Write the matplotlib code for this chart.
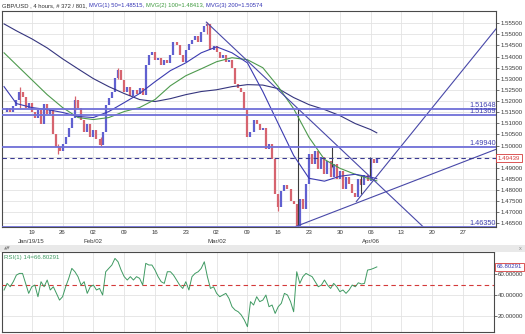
import numpy as np
import matplotlib
matplotlib.use("Agg")
import matplotlib.pyplot as plt
import matplotlib.ticker as mticker
from matplotlib.patches import Rectangle

W, H, DPI = 525, 334, 100

BG     = "#ffffff"
PANEL  = "#e9e9e9"
FRAME  = "#4a4a4a"
GRID   = "#e3e3e3"
TXT    = "#3a3a3a"
UP     = "#6060d0"
DOWN   = "#d6646f"
WICK   = "#3c3c3c"
MA50_C = "#3b3bb0"
MA100C = "#4e9a4e"
MA200C = "#35357e"
TREND  = "#4848a8"
LEVEL  = "#7070d8"
RED    = "#d43a3a"
RSI_C  = "#3f9a62"
FONT   = "Liberation Sans"

# 4h bars, index 0 = Mon Jan 19 2015, 30 bars per trading week
bars = np.arange(-27, 337, 3)
closes = [
    1.5153, 1.5171, 1.5149, 1.5180, 1.5207, 1.5243, 1.5220, 1.5171, 1.5193, 1.5153,
    1.5126, 1.5162, 1.5095, 1.5189, 1.5140, 1.5162, 1.5050, 1.4992, 1.4974, 1.5005,
    1.5037, 1.5081, 1.5126, 1.5207, 1.5171, 1.5117, 1.5063, 1.5095, 1.5037, 1.5072,
    1.5028, 1.5001, 1.5063, 1.5184, 1.5216, 1.5243, 1.5305, 1.5341, 1.5296, 1.5243,
    1.5265, 1.5225, 1.5251, 1.5234, 1.5260, 1.5229, 1.5363, 1.5408, 1.5422, 1.5386,
    1.5395, 1.5363, 1.5386, 1.5372, 1.5408, 1.5466, 1.5453, 1.5408, 1.5377, 1.5430,
    1.5457, 1.5475, 1.5493, 1.5466, 1.5511, 1.5538, 1.5547, 1.5430, 1.5448, 1.5422,
    1.5395, 1.5408, 1.5377, 1.5386, 1.5350, 1.5278, 1.5260, 1.5243, 1.5162, 1.5037,
    1.5063, 1.5117, 1.5095, 1.5072, 1.5081, 1.4983, 1.5005, 1.4938, 1.4781, 1.4723,
    1.4795, 1.4822, 1.4804, 1.4750, 1.4737, 1.4638, 1.4759, 1.4714, 1.4826, 1.4961,
    1.4916, 1.4974, 1.4893, 1.4947, 1.4871, 1.4929, 1.4858, 1.4916, 1.4849, 1.4884,
    1.4804, 1.4858, 1.4826, 1.4786, 1.4768, 1.4849, 1.4822, 1.4867, 1.4840, 1.4938,
    1.4920, 1.49439,
]

# single bars whose range sticks out of the close-to-close path
wick_bars = [-11, 26, 42, 67, 84, 171, 240]
wick_lo   = [1.5170, 1.4961, 1.5160, 1.4996, 1.5300, 1.5500, 1.4706]
wick_hi   = [1.5265, 1.5005, 1.5222, 1.5040, 1.5350, 1.5556, 1.4760]
dark_bars = [259, 292, 321, 329]
dark_lo   = [1.4635, 1.4902, 1.4781, 1.4858]
dark_hi   = [1.51648, 1.4994, 1.4868, 1.4948]

ma_bars = np.r_[-27, np.arange(-15, 331, 15), 336]
ma50 = [1.5265, 1.5189, 1.5171, 1.5162, 1.5149, 1.5131, 1.5126, 1.5153, 1.5193, 1.5234,
        1.5287, 1.5337, 1.5372, 1.5417, 1.5444, 1.5417, 1.5372, 1.5243, 1.5099, 1.4956,
        1.4853, 1.4840, 1.4862, 1.4871, 1.4858, 1.48515]
ma100 = [1.5417, 1.5363, 1.5296, 1.5229, 1.5171, 1.5126, 1.5117, 1.5126, 1.5153, 1.5171,
         1.5207, 1.5269, 1.5314, 1.5345, 1.5377, 1.5395, 1.5386, 1.5350, 1.5265, 1.5166,
         1.5037, 1.4938, 1.4898, 1.4871, 1.4849, 1.48413]
ma200 = [1.5547, 1.5516, 1.5480, 1.5439, 1.5390, 1.5345, 1.5301, 1.5265, 1.5234, 1.5207,
         1.5198, 1.5211, 1.5229, 1.5243, 1.5251, 1.5265, 1.5274, 1.5272, 1.5256, 1.5216,
         1.5184, 1.5162, 1.5135, 1.5099, 1.5072, 1.50574]

# trend lines: two anchor points each (bar, price)
trend_lines = [
    ((170, 1.5555), (380, 1.4640)),   # from the Feb high
    ((257, 1.4636), (452, 1.4983)),   # support from the Mar 18 low
    ((316, 1.4748), (452, 1.5524)),   # steep line from the Apr 1 low
]
levels = [1.51648, 1.51369, 1.49940, 1.46350]
last_price = 1.49439

rsi = [44.8, 51.1, 47.9, 52.7, 59.0, 60.6, 60.6, 51.1, 41.6, 47.9,
       49.5, 38.4, 52.7, 47.9, 54.3, 44.8, 47.9, 41.6, 35.2, 38.4,
       47.9, 55.9, 65.4, 62.2, 57.5, 49.5, 52.7, 41.6, 47.9, 49.5,
       44.8, 46.3, 40.0, 62.2, 65.4, 68.6, 74.9, 71.7, 63.8, 57.5,
       54.3, 57.5, 54.3, 57.5, 55.9, 49.5, 70.2, 68.6, 68.6, 63.8,
       57.5, 52.7, 51.1, 62.2, 62.2, 59.0, 54.3, 49.5, 46.3, 52.7,
       44.8, 57.5, 60.6, 62.2, 65.4, 71.7, 57.5, 46.3, 47.9, 41.6,
       38.4, 40.0, 41.6, 36.8, 28.9, 25.7, 24.1, 21.0, 16.2, 9.8,
       33.7, 30.5, 38.4, 33.7, 35.2, 40.0, 28.9, 30.5, 22.5, 28.9,
       32.1, 41.6, 40.0, 33.7, 24.1, 62.2, 51.1, 57.5, 60.6, 59.0,
       57.5, 52.7, 47.9, 49.5, 54.3, 49.5, 46.3, 51.1, 47.9, 43.2,
       44.8, 41.6, 44.8, 49.5, 47.9, 51.7, 50.5, 51.1, 63.8, 64.4,
       65.5, 66.80291]

week_ticks = np.arange(0, 421, 30)
day_labels = ["19", "26", "02", "09", "16", "23", "02", "09", "16", "23",
              "30", "06", "13", "20", "27"]
month_labels = {0: "Jan/19/15", 60: "Feb/02", 180: "Mar/02", 330: "Apr/06"}

XMIN = -29.0

fig = plt.figure(figsize=(W / DPI, H / DPI), dpi=DPI)
fig.patch.set_facecolor(BG)


def px_axes(l, t, r, b):
    return fig.add_axes([l / W, 1 - b / H, (r - l) / W, (b - t) / H])


def style(ax):
    ax.set_facecolor(BG)
    for sp in ax.spines.values():
        sp.set_color(FRAME)
        sp.set_linewidth(0.8)
    ax.set_xticks(week_ticks)
    ax.grid(True, color=GRID, linewidth=0.6)
    ax.set_axisbelow(True)
    ax.yaxis.tick_right()
    ax.tick_params(axis="x", length=0, labelbottom=False)
    ax.tick_params(axis="y", direction="out", length=2, width=0.5, pad=1,
                   labelsize=4.4, colors=TXT)
    for t in ax.get_yticklabels():
        t.set_fontfamily(FONT)


def fmt_except(value, gap):
    # the boxed value label sits on the axis, so the tick label under it is dropped
    return mticker.FuncFormatter(lambda v, _: "" if abs(v - value) < gap else f"{v:.5f}")


# separator strip between the panes
fig.patches.append(Rectangle((0, 1 - 252 / H), 1, 7 / H, transform=fig.transFigure,
                             fc=PANEL, ec="none", zorder=0))
fig.text(4 / W, 1 - 248.5 / H, "\u25b2\u25bc", fontsize=3.2, color="#8a8a8a", va="center")
fig.text(519 / W, 1 - 248.5 / H, "x", fontsize=4, color="#8a8a8a", va="center",
         fontfamily=FONT)

# ── price pane ─────────────────────────────────────────────────────
ax = px_axes(2, 11, 496, 227)
ax.set_xlim(XMIN, 452.1)
ax.set_ylim(1.4634, 1.5605)
ax.set_yticks(np.arange(1.465, 1.5551, 0.005))
ax.yaxis.set_major_formatter(fmt_except(last_price, 0.0025))
style(ax)

c = np.asarray(closes)
prev = np.r_[c[0], c[:-1]]
ax.vlines(bars, np.minimum(prev, c), np.maximum(prev, c),
          colors=np.where(c >= prev, UP, DOWN), linewidth=1.6, zorder=3)
ax.vlines(wick_bars, wick_lo, wick_hi, colors=DOWN, linewidth=0.9, zorder=3)
ax.vlines(dark_bars, dark_lo, dark_hi, colors=WICK, linewidth=0.8, zorder=3)

ax.plot(ma_bars, ma200, color=MA200C, linewidth=0.8, zorder=4)
ax.plot(ma_bars, ma100, color=MA100C, linewidth=0.8, zorder=4)
ax.plot(ma_bars, ma50, color=MA50_C, linewidth=0.8, zorder=4)

for (x0, y0), (x1, y1) in trend_lines:
    slope = (y1 - y0) / (x1 - x0)
    xe = 460
    ax.plot([x0, xe], [y0, y0 + slope * (xe - x0)], color=TREND, linewidth=0.8, zorder=4)

for lv in levels:
    ax.axhline(lv, color=LEVEL, linewidth=1.3, zorder=4)
    ax.text(452.1, lv, f"{lv:.5f}", ha="right", va="bottom", fontsize=5.2,
            color="#4040b0", fontfamily=FONT, zorder=6)
ax.axhline(last_price, color="#3a3a92", linewidth=0.8, linestyle=(0, (4, 3)), zorder=4)
ax.annotate(f"{last_price:.5f}", xy=(1, last_price), xycoords=("axes fraction", "data"),
            xytext=(2, 0), textcoords="offset pixels", ha="left", va="center",
            fontsize=4.4, color=RED, fontfamily=FONT, annotation_clip=False, zorder=10,
            bbox=dict(boxstyle="square,pad=0.25", fc="white", ec=RED, lw=0.6))

for b, lbl in zip(week_ticks, day_labels):
    ax.annotate(lbl, (b, 0), xycoords=ax.get_xaxis_transform(), xytext=(0, -6),
                textcoords="offset pixels", ha="center", va="center", fontsize=4.4,
                color=TXT, fontfamily=FONT, annotation_clip=False)
for b, lbl in month_labels.items():
    ax.annotate(lbl, (b, 0), xycoords=ax.get_xaxis_transform(), xytext=(0, -14.5),
                textcoords="offset pixels", ha="center", va="center", fontsize=4.4,
                color=TXT, fontfamily=FONT, annotation_clip=False)

# ── RSI pane ───────────────────────────────────────────────────────
ax_r = px_axes(2, 252, 494, 332)
ax_r.set_xlim(XMIN, 450.1)
ax_r.set_ylim(4.8, 81)
ax_r.set_yticks([20, 40, 60])
ax_r.yaxis.set_major_formatter(mticker.FormatStrFormatter("%.5f"))
style(ax_r)
ax_r.plot(bars, rsi, color=RSI_C, linewidth=0.7, zorder=4)
ax_r.axhline(50, color=RED, linewidth=0.8, linestyle=(0, (4, 3)), zorder=3)
ax_r.text(0.004, 0.96, f"RSI(1) 14={rsi[-1]:.5f}", transform=ax_r.transAxes,
          ha="left", va="top", fontsize=4.4, color=RSI_C, fontfamily=FONT)
ax_r.annotate(f"{rsi[-1]:.5f}", xy=(1, rsi[-1]), xycoords=("axes fraction", "data"),
              xytext=(3, 0), textcoords="offset pixels", ha="left", va="center",
              fontsize=4.4, color="#3a3ab0", fontfamily=FONT, annotation_clip=False,
              zorder=10, bbox=dict(boxstyle="square,pad=0.25", fc="white", ec=RED, lw=0.6))

# ── header line ────────────────────────────────────────────────────
parts = [
    ("GBP/USD , 4 hours, # 372 / 801, ", "#303030"),
    (f"MVG(1) 50={ma50[-1]:.5f}, ", "#3535b5"),
    (f"MVG(2) 100={ma100[-1]:.5f}, ", "#3f9a3f"),
    (f"MVG(3) 200={ma200[-1]:.5f}", "#3535b5"),
]
renderer = fig.canvas.get_renderer()
x = 2.0
for s, col in parts:
    t = fig.text(x / W, 1 - 5.5 / H, s, color=col, fontsize=4.2, fontfamily=FONT,
                 ha="left", va="center")
    x += t.get_window_extent(renderer).width

fig.savefig("out.png", dpi=DPI, facecolor=BG)
